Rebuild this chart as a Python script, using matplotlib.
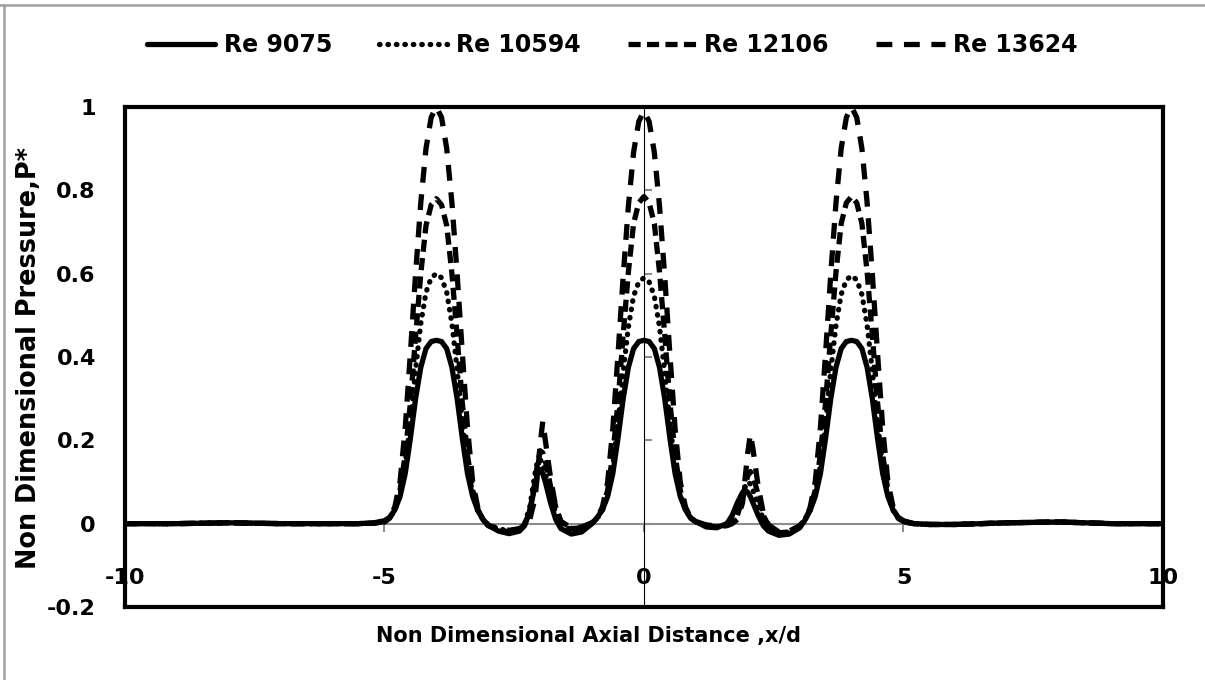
import numpy as np
import matplotlib.pyplot as plt
from matplotlib.lines import Line2D

# axial distance x/d (shared by all runs)
x_d = [-10, -9, -8, -7, -6, -5.5, -5.2, -5.0, -4.9,
       -4.8, -4.7, -4.6, -4.5, -4.4, -4.3, -4.2, -4.1, -4.0,
       -3.9, -3.8, -3.7, -3.6, -3.5, -3.4, -3.3, -3.2, -3.1, -3.0,
       -2.8, -2.6, -2.4, -2.3, -2.2, -2.1, -2.05, -2.0, -1.95, -1.9, -1.8, -1.7, -1.6,
       -1.4, -1.2, -1.0, -0.9,
       -0.8, -0.7, -0.6, -0.5, -0.4, -0.3, -0.2, -0.1, 0.0,
       0.1, 0.2, 0.3, 0.4, 0.5, 0.6, 0.7, 0.8, 0.9, 1.0,
       1.2, 1.4, 1.6, 1.7, 1.8, 1.9, 1.95, 2.0, 2.05, 2.1, 2.2, 2.3, 2.4,
       2.6, 2.8, 3.0,
       3.1, 3.2, 3.3, 3.4, 3.5, 3.6, 3.7, 3.8, 3.9, 4.0,
       4.1, 4.2, 4.3, 4.4, 4.5, 4.6, 4.7, 4.8, 4.9, 5.0,
       5.2, 5.5, 6, 7, 8, 9, 10]

p_re9075 = [0.0, 0.0, 0.002, 0.0, 0.0, 0.0, 0.002, 0.007, 0.015,
            0.033, 0.065, 0.12, 0.205, 0.30, 0.375, 0.42, 0.437, 0.44,
            0.437, 0.42, 0.375, 0.30, 0.205, 0.12, 0.065, 0.031, 0.01, -0.004,
            -0.018, -0.024, -0.018, -0.005, 0.03, 0.09, 0.12, 0.13, 0.12, 0.10, 0.05, 0.01, -0.012,
            -0.025, -0.02, 0.0, 0.015,
            0.033, 0.065, 0.12, 0.205, 0.30, 0.375, 0.42, 0.437, 0.44,
            0.437, 0.42, 0.375, 0.30, 0.205, 0.12, 0.065, 0.033, 0.014, 0.005,
            -0.008, -0.01, 0.0, 0.02, 0.05, 0.075, 0.08, 0.075, 0.065, 0.05, 0.02, -0.005, -0.018,
            -0.028, -0.025, -0.01,
            0.008, 0.031, 0.065, 0.12, 0.205, 0.30, 0.375, 0.42, 0.437, 0.44,
            0.437, 0.42, 0.375, 0.30, 0.205, 0.12, 0.065, 0.033, 0.015, 0.007,
            0.0, -0.002, -0.002, 0.002, 0.004, 0.0, 0.0]

p_re10594 = [0.0, 0.0, 0.002, 0.0, 0.0, 0.0, 0.001, 0.005, 0.013,
             0.032, 0.07, 0.14, 0.245, 0.37, 0.48, 0.555, 0.59, 0.60,
             0.59, 0.555, 0.48, 0.37, 0.245, 0.14, 0.07, 0.03, 0.01, -0.003,
             -0.012, -0.018, -0.012, 0.0, 0.04, 0.12, 0.15, 0.155, 0.14, 0.12, 0.07, 0.025, 0.0,
             -0.015, -0.012, 0.002, 0.013,
             0.032, 0.069, 0.138, 0.242, 0.364, 0.472, 0.546, 0.58, 0.59,
             0.58, 0.546, 0.472, 0.364, 0.242, 0.138, 0.069, 0.032, 0.013, 0.005,
             -0.005, -0.008, 0.0, 0.015, 0.04, 0.075, 0.09, 0.10, 0.095, 0.08, 0.045, 0.01, -0.01,
             -0.022, -0.02, -0.006,
             0.01, 0.031, 0.07, 0.139, 0.243, 0.367, 0.476, 0.55, 0.585, 0.595,
             0.585, 0.55, 0.476, 0.367, 0.243, 0.139, 0.07, 0.032, 0.013, 0.005,
             0.0, -0.002, -0.002, 0.002, 0.004, 0.0, 0.0]

p_re12106 = [0.0, 0.0, 0.002, 0.0, 0.0, 0.0, 0.001, 0.004, 0.013,
             0.035, 0.08, 0.165, 0.29, 0.45, 0.60, 0.715, 0.765, 0.78,
             0.765, 0.715, 0.60, 0.45, 0.29, 0.165, 0.08, 0.034, 0.009, -0.005,
             -0.015, -0.02, -0.014, -0.002, 0.03, 0.10, 0.145, 0.175, 0.17, 0.15, 0.09, 0.04, 0.005,
             -0.012, -0.01, 0.002, 0.013,
             0.035, 0.08, 0.166, 0.292, 0.453, 0.604, 0.72, 0.77, 0.785,
             0.77, 0.72, 0.604, 0.453, 0.292, 0.166, 0.08, 0.035, 0.013, 0.004,
             -0.004, -0.008, -0.004, 0.005, 0.02, 0.06, 0.09, 0.115, 0.125, 0.115, 0.07, 0.02, -0.005,
             -0.022, -0.02, -0.006,
             0.009, 0.034, 0.08, 0.166, 0.292, 0.453, 0.604, 0.72, 0.77, 0.785,
             0.77, 0.72, 0.604, 0.453, 0.292, 0.166, 0.08, 0.035, 0.013, 0.004,
             0.0, -0.002, -0.002, 0.002, 0.004, 0.0, 0.0]

p_re13624 = [0.0, 0.0, 0.002, 0.0, 0.0, 0.0, 0.001, 0.005, 0.014,
             0.04, 0.10, 0.23, 0.41, 0.60, 0.77, 0.90, 0.975, 1.0,
             0.975, 0.90, 0.77, 0.60, 0.41, 0.23, 0.10, 0.038, 0.009, -0.004,
             -0.012, -0.016, -0.012, -0.005, 0.01, 0.06, 0.12, 0.19, 0.245, 0.20, 0.11, 0.04, 0.005,
             -0.01, -0.008, 0.002, 0.014,
             0.04, 0.099, 0.228, 0.406, 0.594, 0.762, 0.891, 0.965, 0.99,
             0.965, 0.891, 0.762, 0.594, 0.406, 0.228, 0.099, 0.04, 0.014, 0.005,
             -0.003, -0.006, -0.005, 0.0, 0.01, 0.05, 0.11, 0.17, 0.215, 0.18, 0.09, 0.025, -0.003,
             -0.02, -0.018, -0.005,
             0.009, 0.038, 0.10, 0.23, 0.41, 0.60, 0.77, 0.90, 0.975, 1.0,
             0.975, 0.90, 0.77, 0.60, 0.41, 0.23, 0.10, 0.04, 0.014, 0.005,
             0.0, -0.002, -0.002, 0.002, 0.004, 0.0, 0.0]

labels = ['Re 9075', 'Re 10594', 'Re 12106', 'Re 13624']
xticks = [-10, -5, 0, 5, 10]
xtick_labels = ['-10', '-5', '0', '5', '10']
yticks = [-0.2, 0, 0.2, 0.4, 0.6, 0.8, 1]
ytick_labels = ['-0.2', '0', '0.2', '0.4', '0.6', '0.8', '1']

plt.rcParams['font.family'] = 'DejaVu Sans'
plt.rcParams['font.weight'] = 'bold'

fig = plt.figure(figsize=(12.05, 6.8), dpi=100)
ax = fig.add_axes([0.1037, 0.1074, 0.8614, 0.7353])

lw = 3.8
ax.plot(x_d, p_re9075, color='black', lw=lw, label=labels[0], solid_capstyle='round')
ax.plot(x_d, p_re10594, color='black', lw=lw, label=labels[1],
        linestyle=(0, (0.1, 1.5)), dash_capstyle='round')
ax.plot(x_d, p_re12106, color='black', lw=lw, label=labels[2], linestyle=(0, (2.3, 1.2)))
ax.plot(x_d, p_re13624, color='black', lw=lw, label=labels[3], linestyle=(0, (3.0, 2.2)))

ax.set_xlim(-10, 10)
ax.set_ylim(-0.2, 1.0)

for s in ax.spines.values():
    s.set_linewidth(3)
    s.set_color('black')

ax.set_xticks([])
ax.set_yticks(yticks, labels=ytick_labels)
ax.tick_params(axis='y', length=0, pad=21, labelsize=16)

# gray axis lines through zero (Excel style)
secx = ax.secondary_xaxis(1 / 6)
secx.set_xticks(xticks, labels=xtick_labels)
secx.spines['bottom'].set_color('#8c8c8c')
secx.spines['bottom'].set_linewidth(1.5)
secx.tick_params(axis='x', direction='out', length=6, width=1.5, color='#8c8c8c',
                 pad=26, labelsize=16)

secy = ax.secondary_yaxis(0.5)
secy.set_yticks(yticks[1:-1], labels=[''] * (len(yticks) - 2))
secy.spines['left'].set_color('#8c8c8c')
secy.spines['left'].set_linewidth(1.5)
secy.tick_params(axis='y', direction='out', length=6, width=1.5, color='#8c8c8c')

fig.text(588 / 1205, 1 - 636 / 680, 'Non Dimensional Axial Distance ,x/d',
         ha='center', va='center', fontsize=15, fontweight='bold')
fig.text(29 / 1205, 1 - 358 / 680, 'Non Dimensional Pressure,P*',
         ha='center', va='center', rotation=90, fontsize=18.4, fontweight='bold')

fig.legend(loc='center', bbox_to_anchor=(0.508, 1 - 45 / 680), ncol=4, frameon=False,
           fontsize=17, handlelength=2.9, handletextpad=0.35, columnspacing=2.0)

# outer chart border (gray)
fig.add_artist(Line2D([0, 1], [1 - 5 / 680, 1 - 5 / 680], transform=fig.transFigure,
                      color='#a0a0a0', lw=1.8))
fig.add_artist(Line2D([4 / 1205, 4 / 1205], [0, 1 - 5 / 680], transform=fig.transFigure,
                      color='#a0a0a0', lw=1.8))

fig.savefig('out.png', dpi=100)
